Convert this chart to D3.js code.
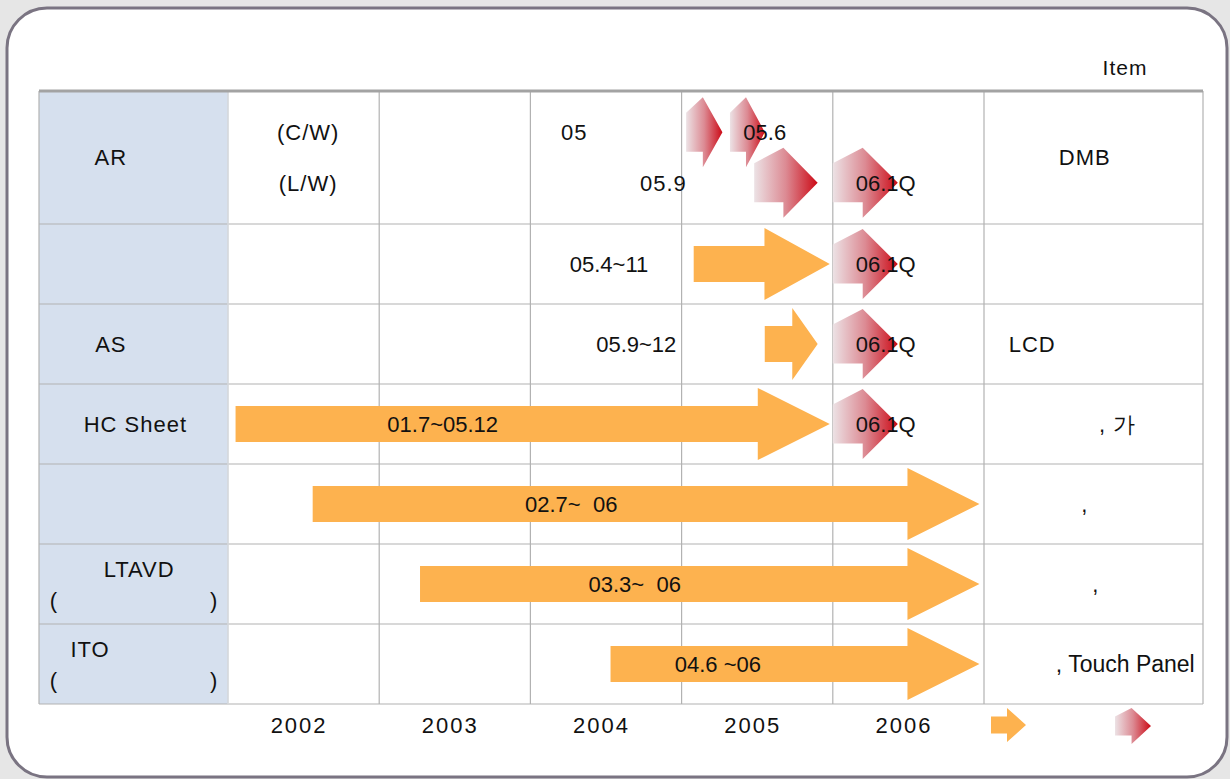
<!DOCTYPE html>
<html>
<head>
<meta charset="utf-8">
<script src="https://cdn.jsdelivr.net/npm/d3@7"></script>
<style>
  body { margin: 0; background: #e6e6e6; }
  svg text { font-family: "Liberation Sans", Arial, sans-serif; fill: #111; white-space: pre; }
</style>
</head>
<body>
<div id="chart"></div>
<script>
// table rows (left column) and remarks (right column)
const rowNames = ["AR", "", "AS", "HC Sheet", "", "LTAVD", "ITO"];
const rowNameAt = [0.38, 0.5, 0.38, 0.51, 0.5, 0.53, 0.27];
const rowSubNames = ["", "", "", "", "", "(                         )", "(                         )"];
const rowNotes = ["DMB", "", "LCD", ", 가", ",", ",", ", Touch Panel"];
const rowNoteAt = [0.46, 0.5, 0.22, 0.61, 0.46, 0.51, 0.645];

const years = [2002, 2003, 2004, 2005, 2006];

// development periods (orange arrows), in fractional years
const periodRow = [1, 2, 3, 4, 5, 6];
const periodStart = [2005.08, 2005.55, 2002.05, 2002.56, 2003.27, 2004.53];
const periodEnd = [2005.98, 2005.90, 2005.98, 2006.97, 2006.97, 2006.97];
const periodLabel = ["05.4~11", "05.9~12", "01.7~05.12", "02.7~  06", "03.3~  06", "04.6 ~06"];
const periodLabelAt = [2004.52, 2004.70, 2003.42, 2004.27, 2004.69, 2005.24];

// milestones (red arrows)
const mileRow = [0, 0, 0, 0, 1, 2, 3];
const mileLane = [0.31, 0.31, 0.69, 0.69, 0.5, 0.5, 0.5];
const mileStart = [2005.03, 2005.32, 2005.48, 2006.0, 2006.0, 2006.0, 2006.0];
const mileEnd = [2005.27, 2005.55, 2005.90, 2006.43, 2006.43, 2006.43, 2006.43];
const mileLabel = ["", "05.6", "", "06.1Q", "06.1Q", "06.1Q", "06.1Q"];
const mileLabelAt = [0, 2005.55, 0, 2006.35, 2006.35, 2006.35, 2006.35];

// extra notes inside the first row
const noteText = ["(C/W)", "(L/W)", "05", "05.9"];
const noteAt = [2002.53, 2002.53, 2004.29, 2004.88];
const noteLane = [0.31, 0.69, 0.31, 0.69];

const W = 1230, H = 779;
const left = 39, right = 1203;

const svg = d3.select("#chart").append("svg").attr("width", W).attr("height", H);

const defs = svg.append("defs");
const grad = defs.append("linearGradient").attr("id", "redGrad")
    .attr("x1", 0).attr("x2", 1).attr("y1", 0).attr("y2", 0);
grad.append("stop").attr("offset", "0%").attr("stop-color", "#ece2e5");
grad.append("stop").attr("offset", "50%").attr("stop-color", "#dc8a93");
grad.append("stop").attr("offset", "100%").attr("stop-color", "#cc0a16");

// frame
svg.append("rect").attr("x", 7).attr("y", 8).attr("width", 1220).attr("height", 769)
    .attr("rx", 40).attr("fill", "#fff").attr("stroke", "#7a7482").attr("stroke-width", 3);

const x = d3.scaleLinear().domain([2002, 2007]).range([228, 984]);
const rowY = d3.scaleLinear().domain([0, 1, 7]).range([91, 224, 704]);
const labelX = d3.scaleLinear().domain([0, 1]).range([left, 228]);
const remarkX = d3.scaleLinear().domain([0, 1]).range([984, right]);
const laneY = (r, f) => rowY(r + f);

// label column
svg.append("rect").attr("x", left).attr("y", rowY(0)).attr("width", 228 - left)
    .attr("height", rowY(7) - rowY(0)).attr("fill", "#d6e0ee");

const grid = svg.append("g").attr("stroke", "#b2b2b2").attr("stroke-width", 1.2);
grid.selectAll("line.h").data(d3.range(1, 8)).join("line")
    .attr("x1", left).attr("x2", right)
    .attr("y1", d => rowY(d)).attr("y2", d => rowY(d));
grid.selectAll("line.v").data(years.concat([2007])).join("line")
    .attr("x1", d => x(d)).attr("x2", d => x(d))
    .attr("y1", rowY(0)).attr("y2", rowY(7));
grid.append("line").attr("x1", left).attr("x2", left).attr("y1", rowY(0)).attr("y2", rowY(7));
grid.append("line").attr("x1", right).attr("x2", right).attr("y1", rowY(0)).attr("y2", rowY(7));
svg.append("line").attr("x1", 228).attr("x2", 228).attr("y1", rowY(0)).attr("y2", rowY(7))
    .attr("stroke", "#e8edf4").attr("stroke-width", 1);
svg.append("line").attr("x1", left).attr("x2", right).attr("y1", rowY(0)).attr("y2", rowY(0))
    .attr("stroke", "#a3a3a3").attr("stroke-width", 3);

svg.append("text").attr("x", 1125).attr("y", 75).attr("text-anchor", "middle")
    .style("font-size", "21px").style("letter-spacing", "1px").text("Item");

// arrow shapes
function blockArrow(x0, x1, cy, shaft, head, headLen) {
    const xh = x1 - headLen;
    return d3.line()([[x0, cy - shaft], [xh, cy - shaft], [xh, cy - head], [x1, cy],
        [xh, cy + head], [xh, cy + shaft], [x0, cy + shaft]]) + "Z";
}
function mileArrow(x0, x1, cy, shaft, head) {
    const xh = x0 + (x1 - x0) * 0.46;
    return d3.line()([[x0, cy - shaft], [xh, cy - head], [x1, cy],
        [xh, cy + head], [xh, cy + shaft], [x0, cy + shaft]]) + "Z";
}

const rowMid = r => (rowY(r) + rowY(r + 1)) / 2;

svg.append("g").selectAll("path").data(periodRow).join("path")
    .attr("d", (r, i) => {
        const x0 = x(periodStart[i]), x1 = x(periodEnd[i]);
        return blockArrow(x0, x1, rowMid(r), 18, 36, Math.min(72, (x1 - x0) * 0.48));
    })
    .attr("fill", "#fdb24f");

svg.append("g").selectAll("path").data(mileRow).join("path")
    .attr("d", (r, i) => mileArrow(x(mileStart[i]), x(mileEnd[i]), laneY(r, mileLane[i]), 19.5, 35))
    .attr("fill", "url(#redGrad)");

const txt = svg.append("g").style("font-size", "22px");

txt.selectAll("text.period").data(periodRow).join("text")
    .attr("x", (r, i) => x(periodLabelAt[i])).attr("y", r => rowMid(r))
    .attr("dy", "0.36em").attr("text-anchor", "middle")
    .text((r, i) => periodLabel[i]);

txt.selectAll("text.mile").data(mileRow).join("text")
    .attr("x", (r, i) => x(mileLabelAt[i])).attr("y", (r, i) => laneY(r, mileLane[i]))
    .attr("dy", "0.36em").attr("text-anchor", "middle")
    .text((r, i) => mileLabel[i]);

txt.selectAll("text.note").data(noteText).join("text")
    .attr("x", (d, i) => x(noteAt[i])).attr("y", (d, i) => laneY(0, noteLane[i]))
    .attr("dy", "0.36em").attr("text-anchor", "middle").style("letter-spacing", "1px")
    .text(d => d);

// left column names
txt.selectAll("text.name").data(rowNames).join("text")
    .attr("x", (d, i) => labelX(rowNameAt[i]))
    .attr("y", (d, i) => rowSubNames[i] ? laneY(i, 0.31) : rowMid(i))
    .attr("dy", "0.36em").attr("text-anchor", "middle").style("letter-spacing", "1px")
    .text(d => d);
txt.selectAll("text.sub").data(rowSubNames).join("text")
    .attr("x", labelX(0.5)).attr("y", (d, i) => laneY(i, 0.7))
    .attr("dy", "0.36em").attr("text-anchor", "middle")
    .text(d => d);

// right column remarks
txt.selectAll("text.remark").data(rowNotes).join("text")
    .attr("x", (d, i) => remarkX(rowNoteAt[i])).attr("y", (d, i) => rowMid(i))
    .attr("dy", "0.36em").attr("text-anchor", "middle")
    .style("font-size", d => d.length > 4 ? "23px" : null)
    .style("letter-spacing", d => d.length > 4 ? "0px" : "1px")
    .text(d => d);

// year axis
const axis = svg.append("g").attr("transform", `translate(0,${rowY(7)})`)
    .call(d3.axisBottom(x).tickValues(years.map(y => y + 0.5)).tickFormat(d => Math.floor(d)).tickSize(0));
axis.select(".domain").remove();
axis.selectAll("text").attr("dy", 0).attr("y", 29).attr("dx", -5)
    .style("font-size", "22px").style("letter-spacing", "2px")
    .style("font-family", "'Liberation Sans', Arial, sans-serif").attr("fill", "#111");

// legend
const legY = 725;
svg.append("path").attr("d", blockArrow(991, 1026, legY, 8.5, 17, 19)).attr("fill", "#fdb24f");
svg.append("path").attr("d", mileArrow(1115, 1151, legY + 1, 9.5, 18)).attr("fill", "url(#redGrad)");
</script>
</body>
</html>
